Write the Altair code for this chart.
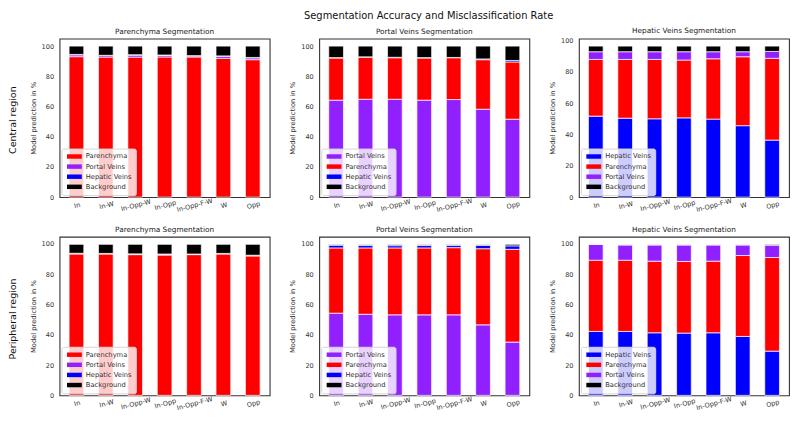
import altair as alt
import pandas as pd

categories = ["In", "In-W", "In-Opp-W", "In-Opp", "In-Opp-F-W", "W", "Opp"]
classes = ["Parenchyma", "Portal Veins", "Hepatic Veins", "Background"]
class_colors = {"Parenchyma": "#ff0000", "Portal Veins": "#9120ff",
                "Hepatic Veins": "#0000ff", "Background": "#000000"}

# ---- Central region ----
c_par = {
    "Parenchyma":    [93.0, 92.7, 92.7, 92.8, 92.8, 91.9, 91.0],
    "Portal Veins":  [1.2, 1.0, 1.3, 1.0, 0.7, 1.3, 1.2],
    "Hepatic Veins": [0.3, 0.2, 0.3, 0.3, 0.2, 0.3, 0.3],
    "Background":    [5.5, 6.1, 5.7, 5.9, 6.3, 6.5, 7.5],
}
c_pv = {
    "Portal Veins":  [64.2, 64.8, 64.8, 64.2, 64.6, 58.2, 51.6],
    "Parenchyma":    [27.9, 27.9, 27.5, 27.9, 27.7, 32.8, 37.9],
    "Hepatic Veins": [0.3, 0.2, 0.3, 0.3, 0.2, 0.5, 1.0],
    "Background":    [7.6, 7.1, 7.4, 7.6, 7.5, 8.5, 9.5],
}
c_hv = {
    "Hepatic Veins": [51.7, 50.4, 50.0, 50.6, 49.8, 45.6, 36.4],
    "Parenchyma":    [36.2, 37.5, 37.9, 36.9, 38.5, 44.0, 52.2],
    "Portal Veins":  [4.9, 4.9, 4.9, 5.3, 4.5, 3.2, 4.4],
    "Background":    [3.6, 3.6, 3.6, 3.6, 3.6, 3.6, 3.4],
}
# ---- Peripheral region ----
p_par = {
    "Parenchyma":    [93.4, 93.4, 93.0, 92.7, 93.0, 93.4, 92.1],
    "Portal Veins":  [0.4, 0.3, 0.4, 0.6, 0.3, 0.3, 0.4],
    "Hepatic Veins": [0.1, 0.1, 0.1, 0.1, 0.1, 0.1, 0.1],
    "Background":    [5.9, 6.0, 6.3, 6.4, 6.4, 6.0, 7.2],
}
p_pv = {
    "Portal Veins":  [54.3, 53.6, 53.2, 53.2, 53.2, 46.6, 35.2],
    "Parenchyma":    [43.1, 43.8, 44.2, 44.2, 44.4, 50.3, 61.3],
    "Hepatic Veins": [1.8, 1.6, 1.5, 1.6, 1.4, 2.2, 2.3],
    "Background":    [0.4, 0.5, 0.6, 0.5, 0.5, 0.4, 1.0],
}
p_hv = {
    "Hepatic Veins": [42.2, 42.2, 41.3, 41.1, 41.3, 38.9, 29.2],
    "Parenchyma":    [47.0, 47.0, 47.3, 47.3, 47.3, 53.4, 61.8],
    "Portal Veins":  [10.4, 10.1, 10.7, 10.9, 10.7, 7.0, 8.0],
    "Background":    [0.1, 0.1, 0.1, 0.1, 0.1, 0.1, 0.6],
}

FONT = "DejaVu Sans"
W, H = 212, 160


def panel(title, data):
    order = list(data.keys())
    rows = []
    for k, cls in enumerate(order):
        for cat, v in zip(categories, data[cls]):
            rows.append({"category": cat, "cls": cls, "value": v, "ord": k})
    df = pd.DataFrame(rows)
    totals = [sum(data[c][i] for c in order) for i in range(len(categories))]
    ymax = max(totals) * 1.05
    return alt.Chart(df).mark_bar(stroke="white", strokeWidth=0.7).encode(
        x=alt.X("category:N", sort=categories,
                scale=alt.Scale(paddingInner=0.5, paddingOuter=0.325),
                axis=alt.Axis(title=None, labelAngle=345, labelPadding=5,
                              labelAlign="center", labelBaseline="top")),
        y=alt.Y("value:Q", stack="zero",
                scale=alt.Scale(domain=[0, ymax], nice=False, zero=True),
                axis=alt.Axis(title="Model prediction in %", values=[0, 20, 40, 60, 80, 100],
                              labelPadding=6, titlePadding=5)),
        color=alt.Color("cls:N",
                        scale=alt.Scale(domain=order, range=[class_colors[c] for c in order]),
                        legend=alt.Legend(title=None, orient="bottom-left", offset=2,
                                          symbolType="M-2,-0.6H2V0.6H-2Z", symbolSize=56,
                                          symbolStrokeWidth=0, symbolOpacity=1,
                                          symbolOffset=5, labelOffset=7.5,
                                          labelFont=FONT, labelFontSize=6.8, labelColor="#333",
                                          rowPadding=2.2, padding=4,
                                          fillColor="rgba(255,255,255,0.8)",
                                          strokeColor="#d5d5d5", cornerRadius=2)),
        order=alt.Order("ord:Q"),
    ).properties(width=W, height=H,
                 title=alt.TitleParams(title, fontSize=7.4, font=FONT, fontWeight="normal",
                                       color="#222", offset=3))


def row(label, charts):
    return alt.hconcat(*charts, spacing=18).resolve_scale(
        color="independent", x="independent", y="independent"
    ).resolve_legend(color="independent").properties(
        title=alt.TitleParams(label, orient="left", anchor="middle", fontSize=9.6,
                              font=FONT, fontWeight="normal", color="#111", offset=12))


top = row("Central region", [
    panel("Parenchyma Segmentation", c_par),
    panel("Portal Veins Segmentation", c_pv),
    panel("Hepatic Veins Segmentation", c_hv),
])
bottom = row("Peripheral region", [
    panel("Parenchyma Segmentation", p_par),
    panel("Portal Veins Segmentation", p_pv),
    panel("Hepatic Veins Segmentation", p_hv),
])

chart = alt.vconcat(top, bottom, spacing=12).resolve_scale(
    color="independent", x="independent", y="independent"
).resolve_legend(color="independent").properties(
    title=alt.TitleParams("Segmentation Accuracy and Misclassification Rate",
                          fontSize=10, font=FONT, fontWeight="normal", color="#111",
                          anchor="middle", offset=6, dx=30),
    padding={"left": 0, "top": 0, "right": 0, "bottom": 0},
).configure_view(stroke="#333333", strokeWidth=1.1).configure_axis(
    labelFont=FONT, labelFontSize=6.6, labelColor="#333", titleFont=FONT,
    titleFontSize=6.8, titleFontWeight="normal", titleColor="#333",
    ticks=False, domain=False, grid=False,
)

chart.save("out.html", embed_options={"renderer": "svg", "actions": False})
